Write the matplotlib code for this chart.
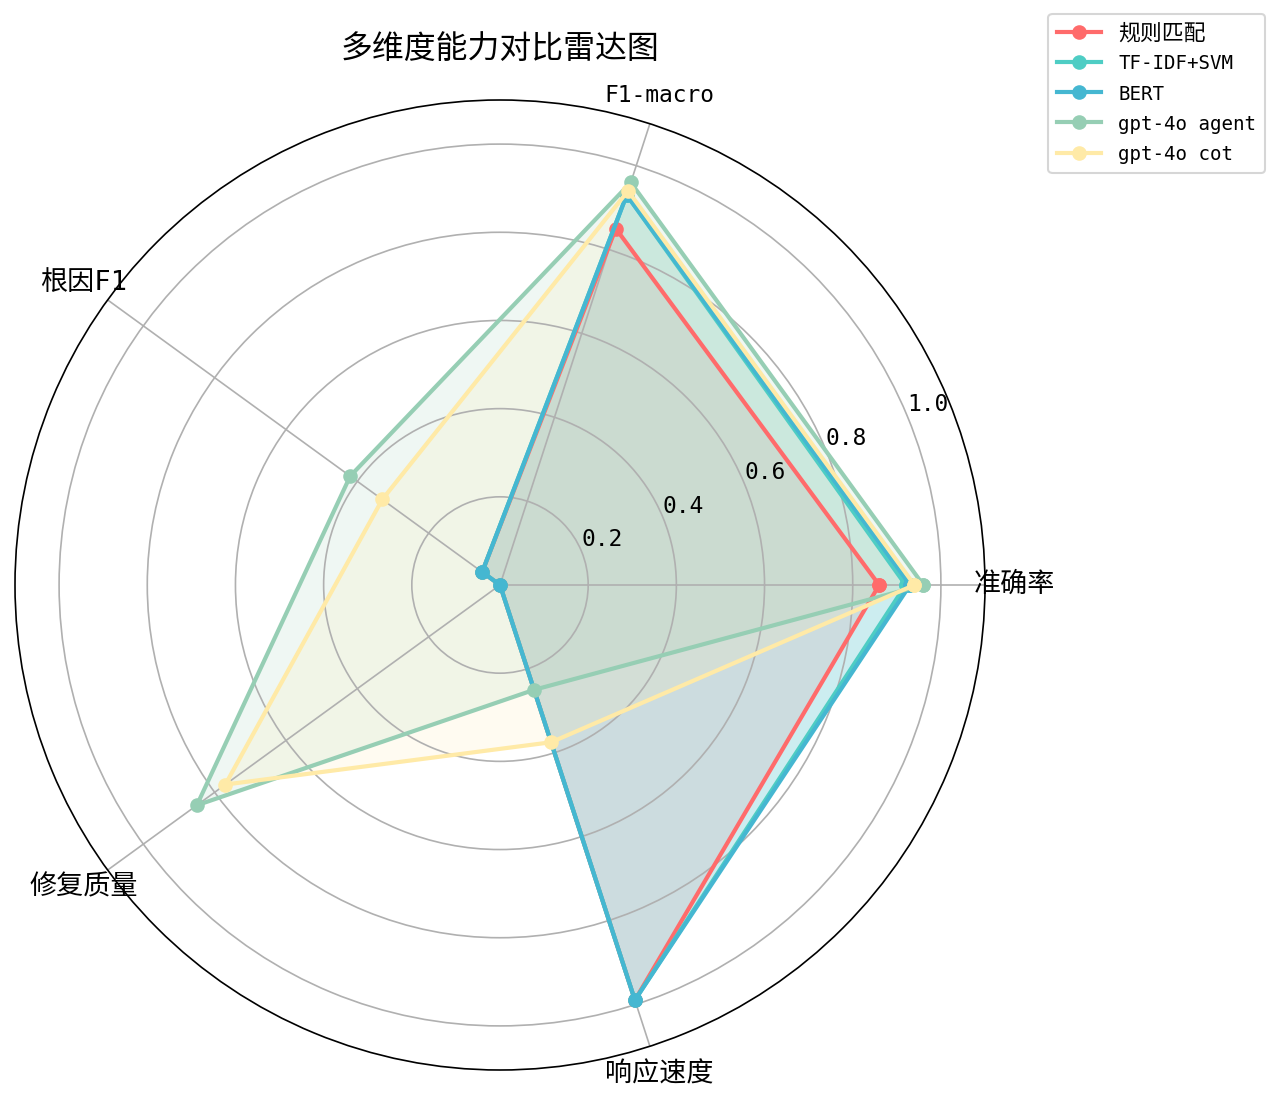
import numpy as np
import matplotlib
matplotlib.use('Agg')
import matplotlib.pyplot as plt

# monospace Latin glyphs, CJK falls back to Noto
plt.rcParams['font.family'] = ['DejaVu Sans Mono', 'Noto Sans CJK SC']
plt.rcParams['axes.unicode_minus'] = False

# dimensions of the radar
categories = ['准确率', 'F1-macro', '根因F1', '修复质量', '响应速度']

# method scores
methods = ['规则匹配', 'TF-IDF+SVM', 'BERT', 'gpt-4o agent', 'gpt-4o cot']
rule_scores = [0.86, 0.85, 0.05, 0.0, 0.99]
svm_scores = [0.92, 0.93, 0.05, 0.0, 0.99]
bert_scores = [0.93, 0.93, 0.05, 0.0, 0.99]
agent_scores = [0.96, 0.96, 0.42, 0.85, 0.25]
cot_scores = [0.94, 0.94, 0.33, 0.77, 0.375]
colors = ['#FF6B6B', '#4ECDC4', '#45B7D1', '#96CEB4', '#FFEAA7']

all_scores = [rule_scores, svm_scores, bert_scores, agent_scores, cot_scores]


def is_latin(s):
    return all(ord(ch) < 128 for ch in s)


angles = np.linspace(0, 2 * np.pi, len(categories), endpoint=False).tolist()
angles += angles[:1]

fig = plt.figure(figsize=(1280 / 150, 1102 / 150), dpi=150)
ax = fig.add_axes([15 / 1280, 32 / 1102, 970 / 1280, 970 / 1102], projection='polar')

for name, vals, c in zip(methods, all_scores, colors):
    v = list(vals) + vals[:1]
    ax.plot(angles, v, 'o-', linewidth=2, markersize=6, color=c, label=name)
    ax.fill(angles, v, alpha=0.15, color=c)

ax.set_xticks(angles[:-1])
ax.set_xticklabels(categories, fontsize=13)
for t in ax.get_xticklabels():
    if is_latin(t.get_text()):
        t.set_fontsize(11)
ax.set_ylim(0, 1.1)
ax.set_yticks([0.2, 0.4, 0.6, 0.8, 1.0])
ax.set_yticklabels(['0.2', '0.4', '0.6', '0.8', '1.0'], fontsize=11)
ax.grid(True, color='#b0b0b0', linewidth=0.8)

ax.set_title('多维度能力对比雷达图', fontsize=15.3, pad=20)
leg = ax.legend(loc='upper right', bbox_to_anchor=(1.3, 1.1), fontsize=10.5)
for t in leg.get_texts():
    if is_latin(t.get_text()):
        t.set_fontsize(9.2)

fig.savefig('out.png', dpi=150)
